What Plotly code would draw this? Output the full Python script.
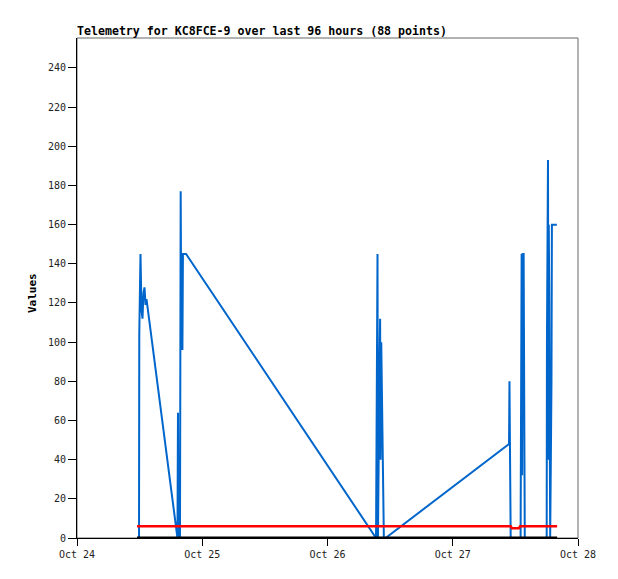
import plotly.graph_objects as go
import pandas as pd

# Blue telemetry series (timestamp, value)
blue_times = [
    "2023-10-24 11:53", "2023-10-24 11:56", "2023-10-24 12:10", "2023-10-24 12:22",
    "2023-10-24 12:33", "2023-10-24 12:44", "2023-10-24 12:56", "2023-10-24 13:08",
    "2023-10-24 13:19", "2023-10-24 19:10", "2023-10-24 19:15", "2023-10-24 19:21",
    "2023-10-24 19:26", "2023-10-24 19:38", "2023-10-24 19:44", "2023-10-24 19:52",
    "2023-10-24 20:00", "2023-10-24 20:06", "2023-10-24 20:12", "2023-10-24 20:18",
    "2023-10-24 20:54",
    "2023-10-26 09:18", "2023-10-26 09:35", "2023-10-26 09:40", "2023-10-26 09:50",
    "2023-10-26 10:00", "2023-10-26 10:05", "2023-10-26 10:10", "2023-10-26 10:18",
    "2023-10-26 10:27", "2023-10-26 10:32", "2023-10-26 10:40", "2023-10-26 10:48",
    "2023-10-26 11:08",
    "2023-10-27 10:47", "2023-10-27 10:52", "2023-10-27 10:58", "2023-10-27 11:06",
    "2023-10-27 13:00", "2023-10-27 13:05", "2023-10-27 13:12", "2023-10-27 13:18",
    "2023-10-27 13:24", "2023-10-27 13:35", "2023-10-27 13:42", "2023-10-27 13:48",
    "2023-10-27 18:00", "2023-10-27 18:03", "2023-10-27 18:15", "2023-10-27 18:21",
    "2023-10-27 18:24", "2023-10-27 18:30", "2023-10-27 18:40", "2023-10-27 18:48",
    "2023-10-27 18:55", "2023-10-27 19:00", "2023-10-27 19:57",
]
blue_values = [
    0, 104, 145, 116,
    112, 125, 128, 119,
    122, 3, 0, 64,
    0, 38, 0, 177,
    96, 145, 96, 145,
    145,
    0, 145, 0, 72,
    96, 112, 40, 100,
    76, 54, 32, 0,
    0,
    48, 80, 40, 0,
    0, 48, 145, 32,
    145, 145, 16, 0,
    0, 101, 193, 40,
    160, 120, 0, 41,
    80, 160, 160,
]

# Red series
red_times = ["2023-10-24 11:30", "2023-10-27 11:06", "2023-10-27 11:20",
             "2023-10-27 12:40", "2023-10-27 12:55", "2023-10-27 20:00"]
red_values = [6, 6, 5, 5, 6, 6]

# Black series
black_times = ["2023-10-24 11:30", "2023-10-27 20:00"]
black_values = [0, 0]

x_ticks = ["2023-10-24", "2023-10-25", "2023-10-26", "2023-10-27", "2023-10-28"]
x_tick_labels = ["Oct 24", "Oct 25", "Oct 26", "Oct 27", "Oct 28"]
y_ticks = list(range(0, 241, 20))

fig = go.Figure()
fig.add_trace(go.Scatter(x=pd.to_datetime(blue_times), y=blue_values, mode="lines",
                         line=dict(color="#0066cc", width=2), showlegend=False))
fig.add_trace(go.Scatter(x=pd.to_datetime(red_times), y=red_values, mode="lines",
                         line=dict(color="#ff0000", width=2.5), showlegend=False))
fig.add_trace(go.Scatter(x=pd.to_datetime(black_times), y=black_values, mode="lines",
                         line=dict(color="#000000", width=3), showlegend=False))

font_mono = "DejaVu Sans Mono"
W, H = 610, 571
fig.update_layout(
    width=W, height=H,
    margin=dict(l=69, r=40, t=30, b=41),
    paper_bgcolor="white", plot_bgcolor="white",
    font=dict(family=font_mono, size=10, color="#222222"),
    title=dict(text="<b>Telemetry for KC8FCE-9 over last 96 hours (88 points)</b>",
               x=69/W, xanchor="left", xref="container",
               y=1 - 23/H, yanchor="middle", yref="container",
               font=dict(family=font_mono, size=11.6, color="#000000")),
    xaxis=dict(range=[pd.Timestamp("2023-10-24"), pd.Timestamp("2023-10-28")],
               tickvals=pd.to_datetime(x_ticks), ticktext=x_tick_labels,
               showgrid=False, zeroline=False, showline=True, linecolor="#000000",
               linewidth=1, ticks="outside", ticklen=7, tickcolor="#000000",
               tickfont=dict(family=font_mono, size=10, color="#222222")),
    yaxis=dict(range=[0, 255.3], tickvals=y_ticks,
               showgrid=False, zeroline=False, showline=True, linecolor="#000000",
               linewidth=1, ticks="outside", ticklen=8, tickcolor="#000000",
               tickfont=dict(family=font_mono, size=10, color="#222222")),
    shapes=[dict(type="rect", xref="paper", yref="paper", x0=0, y0=0, x1=1, y1=1,
                 line=dict(color="#666666", width=1), layer="below")],
    annotations=[dict(text="<b>Values</b>", xref="paper", yref="paper",
                      x=(32-77)/501, y=0.49, xanchor="center", yanchor="middle",
                      textangle=-90, showarrow=False,
                      font=dict(family=font_mono, size=11, color="#000000"))],
)

fig.write_html("out.html")
